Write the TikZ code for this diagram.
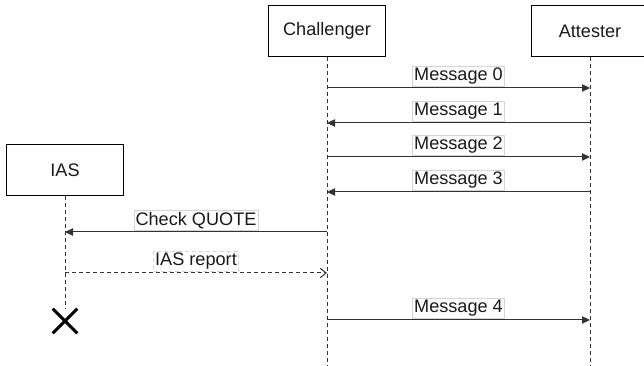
\documentclass[tikz,border=0pt]{standalone}
\usepackage{fontspec}
\setmainfont{Liberation Sans}
\usetikzlibrary{arrows.meta,positioning,calc}
\definecolor{lineGray}{HTML}{333333}
\definecolor{labelEdge}{HTML}{D4D4D4}
\definecolor{textDark}{HTML}{1A1A1A}

\begin{document}
\begin{tikzpicture}[
    x=0.75pt, y=-0.75pt,
    actor/.style={
      rectangle, draw=black, line width=0.75pt, fill=white,
      text=textDark, font=\fontsize{13.6pt}{15.5pt}\selectfont,
      minimum width=87.75pt, minimum height=38pt, inner sep=0pt
    },
    lifeline/.style={draw=lineGray, line width=0.75pt, dash pattern=on 3pt off 2.25pt},
    msg/.style={-{Triangle[length=6pt,width=5.5pt]}, draw=lineGray, line width=0.75pt},
    reply/.style={-{Straight Barb[length=4.5pt,width=7pt]}, draw=lineGray, line width=0.75pt,
      dash pattern=on 3pt off 2.25pt},
    lbl/.style={draw=labelEdge, line width=0.5pt, fill=white, text=textDark,
      font=\fontsize{13.6pt}{15.5pt}\selectfont, inner sep=1.2pt, anchor=south, yshift=1.2pt},
    killmark/.style={draw=black, line width=2.2pt}
  ]
  \useasboundingbox (0,0) rectangle (644,366);

  % participants
  \node[actor] (ch) at (327,31) {Challenger};
  \node[actor] (at) at (590,31) {Attester};
  \node[actor] (ias) at (65,170) {IAS};

  % lifeline ends
  \coordinate (chEnd) at (327,366);
  \coordinate (atEnd) at (590,366);
  \coordinate (iasEnd) at (65,309);

  % message rows
  \coordinate (r0) at (0,88);
  \coordinate (r1) at (0,123);
  \coordinate (r2) at (0,157);
  \coordinate (r3) at (0,192);
  \coordinate (r4) at (0,232);
  \coordinate (r5) at (0,273);
  \coordinate (r6) at (0,320);

  \draw[lifeline] (ch) -- (chEnd);
  \draw[lifeline] (at) -- (atEnd);
  \draw[lifeline] (ias) -- (iasEnd);

  \draw[msg] (ch |- r0) -- (at |- r0) node[lbl, midway] {Message 0};
  \draw[msg] (at |- r1) -- (ch |- r1) node[lbl, midway] {Message 1};
  \draw[msg] (ch |- r2) -- (at |- r2) node[lbl, midway] {Message 2};
  \draw[msg] (at |- r3) -- (ch |- r3) node[lbl, midway] {Message 3};
  \draw[msg] (ch |- r4) -- (ias |- r4) node[lbl, midway] {Check QUOTE};
  \draw[reply] (ias |- r5) -- (ch |- r5) node[lbl, midway] {IAS report};
  \draw[msg] (ch |- r6) -- (at |- r6) node[lbl, midway] {Message 4};

  % destruction of IAS
  \node[minimum size=18pt, inner sep=0pt] (kill) at (65,321) {};
  \draw[killmark] (kill.north west) -- (kill.south east);
  \draw[killmark] (kill.north east) -- (kill.south west);
\end{tikzpicture}
\end{document}
